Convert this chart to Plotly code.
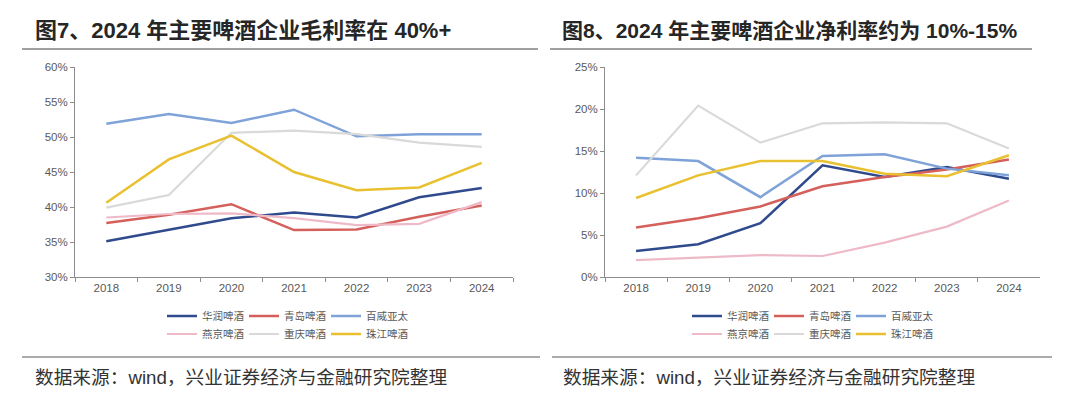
import plotly.graph_objects as go

years = ["2018", "2019", "2020", "2021", "2022", "2023", "2024"]
companies = ["华润啤酒", "青岛啤酒", "百威亚太", "燕京啤酒", "重庆啤酒", "珠江啤酒"]
colors = ["#2F4B8E", "#D5605B", "#7FA3D8", "#EEBAC8", "#D9D9D9", "#E9C130"]
widths = [2.5, 2.5, 2.5, 2.2, 2.2, 2.5]

gross_huarun = [35.1, 36.8, 38.4, 39.2, 38.5, 41.4, 42.7]
gross_qingdao = [37.7, 38.9, 40.4, 36.7, 36.8, 38.6, 40.2]
gross_baiwei = [51.9, 53.3, 52.0, 53.9, 50.1, 50.4, 50.4]
gross_yanjing = [38.5, 39.0, 39.1, 38.4, 37.4, 37.6, 40.7]
gross_chongqing = [39.9, 41.7, 50.6, 50.9, 50.4, 49.2, 48.6]
gross_zhujiang = [40.6, 46.8, 50.2, 45.0, 42.4, 42.8, 46.3]

net_huarun = [3.1, 3.9, 6.4, 13.3, 11.9, 13.1, 11.7]
net_qingdao = [5.9, 7.0, 8.4, 10.8, 11.9, 12.8, 14.0]
net_baiwei = [14.2, 13.8, 9.5, 14.4, 14.6, 12.9, 12.1]
net_yanjing = [2.0, 2.3, 2.6, 2.5, 4.1, 6.0, 9.1]
net_chongqing = [12.1, 20.4, 16.0, 18.3, 18.4, 18.3, 15.3]
net_zhujiang = [9.4, 12.1, 13.8, 13.8, 12.3, 12.0, 14.5]

gross = [gross_huarun, gross_qingdao, gross_baiwei, gross_yanjing, gross_chongqing, gross_zhujiang]
net = [net_huarun, net_qingdao, net_baiwei, net_yanjing, net_chongqing, net_zhujiang]

title_left = "图7、2024 年主要啤酒企业毛利率在 40%+"
title_right = "图8、2024 年主要啤酒企业净利率约为 10%-15%"
source_text = "数据来源：wind，兴业证券经济与金融研究院整理"

FONT = "Liberation Sans, Arial, Noto Sans CJK SC, sans-serif"
W, H = 1080, 396

fig = go.Figure()
for i, name in enumerate(companies):
    lg = "legend" if i < 3 else "legend2"
    fig.add_trace(go.Scatter(x=years, y=gross[i], name=name, mode="lines",
                             line=dict(color=colors[i], width=widths[i]),
                             xaxis="x", yaxis="y", legend=lg))
for i, name in enumerate(companies):
    lg = "legend3" if i < 3 else "legend4"
    fig.add_trace(go.Scatter(x=years, y=net[i], name=name, mode="lines",
                             line=dict(color=colors[i], width=widths[i]),
                             xaxis="x2", yaxis="y2", legend=lg))

axis_common = dict(showline=True, linecolor="#8C8C8C", linewidth=1, ticks="outside",
                   tickcolor="#8C8C8C", ticklen=4, showgrid=False, zeroline=False,
                   tickfont=dict(family=FONT, size=11.5, color="#595959"))

def px_x(p):
    return p / W

def px_y(p):
    return 1 - p / H

fig.update_layout(
    width=W, height=H,
    margin=dict(l=0, r=0, t=0, b=0, autoexpand=False),
    paper_bgcolor="white", plot_bgcolor="white",
    font=dict(family=FONT),
    xaxis=dict(domain=[px_x(75), px_x(513)], anchor="y", type="category",
               range=[-0.5, 6.5], tickson="boundaries", **axis_common),
    yaxis=dict(domain=[px_y(277), px_y(67)], anchor="x", range=[30, 60], dtick=5,
               ticksuffix="%", **axis_common),
    xaxis2=dict(domain=[px_x(605), px_x(1040)], anchor="y2", type="category",
                range=[-0.5, 6.5], tickson="boundaries", **axis_common),
    yaxis2=dict(domain=[px_y(277), px_y(67)], anchor="x2", range=[0, 25], dtick=5,
                ticksuffix="%", **axis_common),
    showlegend=True,
)

leg_common = dict(orientation="h", xanchor="left", yanchor="middle", itemwidth=30,
                  entrywidth=37, bgcolor="rgba(0,0,0,0)", tracegroupgap=0,
                  font=dict(family="Noto Sans CJK SC", size=10.5, color="#595959"))
fig.update_layout(
    legend=dict(x=px_x(162), y=px_y(316), **leg_common),
    legend2=dict(x=px_x(162), y=px_y(334), **leg_common),
    legend3=dict(x=px_x(687), y=px_y(316), **leg_common),
    legend4=dict(x=px_x(687), y=px_y(334), **leg_common),
)

shapes = []
for x0, x1 in [(22, 538), (550, 1032)]:
    shapes.append(dict(type="line", xref="paper", yref="paper", x0=px_x(x0), x1=px_x(x1),
                       y0=px_y(49), y1=px_y(49), line=dict(color="#7F7F7F", width=1.5)))
for x0, x1 in [(22, 540), (552, 1052)]:
    shapes.append(dict(type="line", xref="paper", yref="paper", x0=px_x(x0), x1=px_x(x1),
                       y0=px_y(357), y1=px_y(357), line=dict(color="#595959", width=1.2)))
fig.update_layout(shapes=shapes)

annotations = []
for x, t, s in [(33, title_left, 22), (560, title_right, 21)]:
    annotations.append(dict(text="<b>" + t + "</b>", xref="paper", yref="paper",
                            x=px_x(x), y=px_y(30), xanchor="left", yanchor="middle",
                            showarrow=False,
                            font=dict(family=FONT, size=s, color="#262626")))
for x in [33, 561]:
    annotations.append(dict(text=source_text, xref="paper", yref="paper",
                            x=px_x(x), y=px_y(377), xanchor="left", yanchor="middle",
                            showarrow=False,
                            font=dict(family=FONT, size=18.7, color="#333333")))
fig.update_layout(annotations=annotations)

fig.write_html("out.html", config={"displayModeBar": False},
               post_script="document.body.style.margin='0';")
